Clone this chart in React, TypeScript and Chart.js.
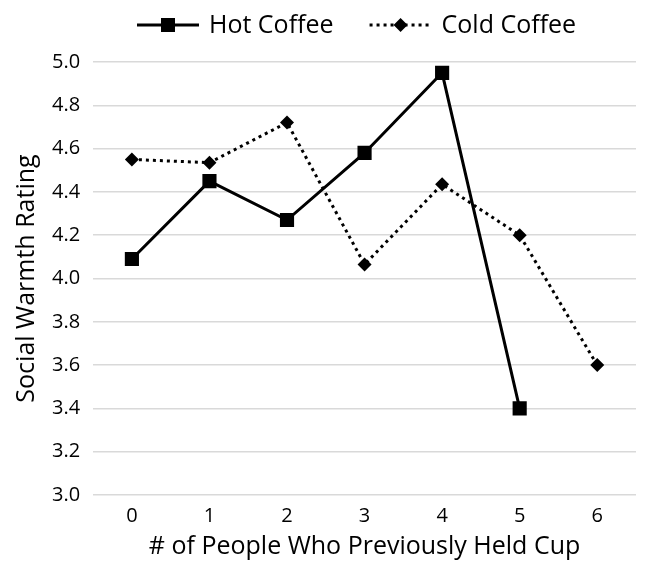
import React, { useEffect, useRef } from "react";
import { Chart, registerables } from "chart.js";

Chart.register(...registerables);

const categories = ["0", "1", "2", "3", "4", "5", "6"];
const hotCoffee = [4.09, 4.45, 4.27, 4.58, 4.95, 3.4, null];
const coldCoffee = [4.55, 4.535, 4.72, 4.065, 4.435, 4.2, 3.6];
const seriesNames = ["Hot Coffee", "Cold Coffee"];

const FONT = "'Open Sans', 'Liberation Sans', sans-serif";

const legendPlugin = {
  id: "lineMarkerLegend",
  afterDraw(chart: any) {
    const ctx = chart.ctx as CanvasRenderingContext2D;
    const area = chart.chartArea;
    const lineLen = 62;
    const textGap = 10;
    const itemGap = 36;
    const y = 25;
    ctx.save();
    ctx.font = `25px ${FONT}`;
    const w0 = ctx.measureText(seriesNames[0]).width;
    const w1 = ctx.measureText(seriesNames[1]).width;
    const total = lineLen + textGap + w0 + itemGap + lineLen + textGap + w1;
    let x = (area.left + area.right) / 2 - 8 - total / 2;
    const items = [
      { text: seriesNames[0], w: w0, dash: [] as number[], marker: "rect" },
      { text: seriesNames[1], w: w1, dash: [3, 4], marker: "diamond" },
    ];
    for (const it of items) {
      ctx.strokeStyle = "#000";
      ctx.fillStyle = "#000";
      ctx.lineWidth = 3;
      ctx.setLineDash(it.dash);
      ctx.beginPath();
      ctx.moveTo(x, y);
      ctx.lineTo(x + lineLen, y);
      ctx.stroke();
      ctx.setLineDash([]);
      const cx = x + lineLen / 2;
      if (it.marker === "rect") {
        ctx.fillRect(cx - 7, y - 7, 14, 14);
      } else {
        ctx.beginPath();
        ctx.moveTo(cx, y - 7);
        ctx.lineTo(cx + 7, y);
        ctx.lineTo(cx, y + 7);
        ctx.lineTo(cx - 7, y);
        ctx.closePath();
        ctx.fill();
      }
      x += lineLen + textGap;
      ctx.textBaseline = "middle";
      ctx.textAlign = "left";
      ctx.fillText(it.text, x, y + 1);
      x += it.w + itemGap;
    }
    ctx.restore();
  },
};

export default function App() {
  const ref = useRef<HTMLCanvasElement>(null);
  useEffect(() => {
    const chart = new Chart(ref.current!, {
      type: "line",
      data: {
        labels: categories,
        datasets: [
          {
            label: seriesNames[0],
            data: hotCoffee,
            borderColor: "#000",
            backgroundColor: "#000",
            borderWidth: 3,
            pointStyle: "rect",
            pointRadius: 10,
            pointHoverRadius: 10,
            pointBackgroundColor: "#000",
            pointBorderWidth: 0,
            spanGaps: false,
          },
          {
            label: seriesNames[1],
            data: coldCoffee,
            borderColor: "#000",
            backgroundColor: "#000",
            borderWidth: 3,
            borderDash: [3, 4],
            pointStyle: "rectRot",
            pointRadius: 7,
            pointHoverRadius: 7,
            pointBackgroundColor: "#000",
            pointBorderWidth: 0,
          },
        ],
      },
      plugins: [legendPlugin],
      options: {
        animation: false,
        responsive: false,
        maintainAspectRatio: false,
        layout: { padding: { left: 12, right: 3, top: 62, bottom: 0 } },
        plugins: {
          tooltip: { enabled: false },
          legend: { display: false },
        },
        scales: {
          x: {
            offset: true,
            grid: { display: false },
            border: { display: false },
            afterFit: (scale: any) => {
              scale.paddingLeft = 0;
              scale.paddingRight = 0;
            },
            ticks: { color: "#000", font: { family: FONT, size: 20 }, padding: 1 },
            title: {
              display: true,
              text: "# of People Who Previously Held Cup",
              color: "#000",
              font: { family: FONT, size: 25 },
              padding: { top: 3, bottom: 0 },
            },
          },
          y: {
            min: 3.0,
            max: 5.0,
            grid: { color: "#d9d9d9", lineWidth: 1.5, drawTicks: false },
            border: { display: false },
            ticks: {
              stepSize: 0.2,
              color: "#000",
              font: { family: FONT, size: 20 },
              padding: 13,
              callback: (v: any) => Number(v).toFixed(1),
            },
            title: {
              display: true,
              text: "Social Warmth Rating",
              color: "#000",
              font: { family: FONT, size: 25 },
              padding: { top: 0, bottom: -3 },
            },
          },
        },
      },
    });
    return () => chart.destroy();
  }, []);
  return (
    <div style={{ position: "fixed", left: 0, top: 0, width: 646, height: 562, background: "#fff" }}>
      <canvas ref={ref} width={646} height={562} style={{ display: "block", width: 646, height: 562 }} />
    </div>
  );
}
